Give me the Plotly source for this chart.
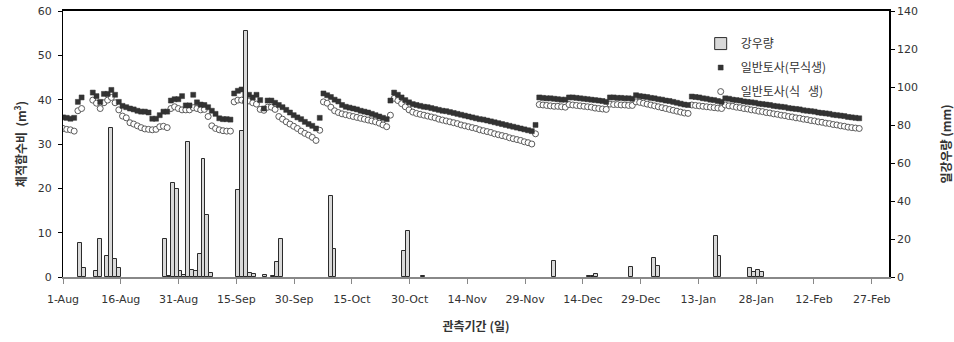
import pandas as pd
import plotly.graph_objects as go

# ---------------------------------------------------------------------------
# Daily rainfall (mm), secondary axis
# ---------------------------------------------------------------------------
rain_dates = [
    "2010-08-05", "2010-08-06", "2010-08-09", "2010-08-10", "2010-08-12",
    "2010-08-13", "2010-08-14", "2010-08-15", "2010-08-27", "2010-08-28",
    "2010-08-29", "2010-08-30", "2010-08-31", "2010-09-01", "2010-09-02",
    "2010-09-03", "2010-09-04", "2010-09-05", "2010-09-06", "2010-09-07",
    "2010-09-08", "2010-09-15", "2010-09-16", "2010-09-17", "2010-09-18",
    "2010-09-19", "2010-09-22", "2010-09-24", "2010-09-25", "2010-09-26",
    "2010-10-09", "2010-10-10", "2010-10-28", "2010-10-29", "2010-11-02",
    "2010-12-06", "2010-12-15", "2010-12-16", "2010-12-17", "2010-12-26",
    "2011-01-01", "2011-01-02", "2011-01-17", "2011-01-18", "2011-01-26",
    "2011-01-27", "2011-01-28", "2011-01-29",
]
rain_mm = [
    18.0, 4.9, 3.0, 20.0, 11.0,
    78.2, 9.5, 4.9, 20.0, 0.4,
    49.7, 46.3, 3.2, 0.9, 71.2,
    3.7, 3.2, 12.1, 62.1, 32.7,
    1.9, 46.0, 77.0, 129.3, 2.1,
    1.6, 1.0, 0.5, 7.9, 20.0,
    42.7, 14.9, 13.8, 24.4, 0.5,
    8.6, 0.4, 0.5, 1.8, 5.3,
    10.0, 5.8, 21.6, 11.0, 4.7,
    2.5, 3.9, 2.5,
]

# ---------------------------------------------------------------------------
# Volumetric water content, one value per day from 1 Aug (None = no record)
# ---------------------------------------------------------------------------
series_start = "2010-08-01"

bare_soil = [  # 일반토사(무식생)
    36.0, 35.9, 35.7, 35.9, 39.5, 40.5, None, None,
    41.6, 40.8, 39.5, 41.3, 41.3, 42.2, 41.1, 39.5, 38.6, 38.3,
    38.0, 37.8, 37.5, 37.3, 37.3, 37.1, 35.7, 35.7, 36.5, 37.3,
    37.3, 39.8, 40.1, 40.1, 40.8, 38.7, 38.7, 41.1, 39.4, 38.9,
    38.8, 38.3, 37.5, 36.8, 35.8, 35.6, 35.6, 35.5,
    41.4, 42.0, 42.3, 41.1, 41.1, 40.5, 41.1, 39.9, 38.0, 39.8,
    39.8, 39.3, 38.8, 38.3, 37.7, 37.1, 36.5, 36.0, 35.6, 35.0,
    34.5, 34.1, 33.5, 35.9,
    41.4, 41.0, 40.6, 40.0, 39.6, 38.8, 38.4, 38.2, 38.0, 37.8,
    37.5, 37.3, 37.1, 36.8, 36.5, 36.2, 35.9, 35.6, 39.8,
    41.6, 41.1, 40.5, 39.9, 39.4, 39.0, 38.8, 38.6, 38.4, 38.3,
    38.1, 37.9, 37.7, 37.5, 37.4, 37.2, 37.0, 36.8, 36.6, 36.4,
    36.2, 36.0, 35.8, 35.6, 35.5, 35.3, 35.1, 34.9, 34.7, 34.5,
    34.3, 34.1, 33.9, 33.7, 33.5, 33.3, 33.1, 32.9, 34.3,
    40.5, 40.4, 40.3, 40.3, 40.2, 40.1, 40.0, 40.0,
    40.5, 40.5, 40.4, 40.3, 40.2, 40.1, 40.0, 39.9, 39.8, 39.7, 39.5,
    40.5, 40.5, 40.4, 40.4, 40.3, 40.3, 40.2,
    41.0, 40.8, 40.7, 40.6, 40.4, 40.3, 40.1, 40.0, 39.8, 39.7,
    39.5, 39.3, 39.1, 38.9, 38.8,
    40.7, 40.6, 40.5, 40.3, 40.2, 40.0, 39.9, 39.7, 39.5,
    40.3, 40.2, 40.0, 39.9, 39.8, 39.6, 39.5, 39.4, 39.3, 39.1,
    39.0, 38.9, 38.8, 38.6, 38.5, 38.4, 38.3, 38.1, 38.0, 37.9,
    37.8, 37.6, 37.5, 37.4, 37.3, 37.1, 37.0, 36.9, 36.8, 36.6,
    36.5, 36.4, 36.3, 36.1, 36.0, 35.9, 35.8,
]

vegetated = [  # 일반토사(식 생)
    33.5, 33.3, 33.2, 32.9, 37.5, 38.0, None, None,
    39.9, 39.2, 38.0, 39.3, 39.9, 40.5, 39.3, 37.7, 36.3, 35.9,
    34.8, 34.5, 34.1, 33.7, 33.4, 33.3, 33.2, 33.3, 33.9, 34.0,
    33.7, 38.0, 38.4, 38.0, 37.7, 37.7, 37.7, 38.2, 38.0, 37.7,
    37.8, 36.2, 34.1, 33.5, 33.2, 33.0, 32.9, 32.9,
    39.5, 39.9, 39.9, 39.5, 39.7, 39.3, 39.0, 37.8, 37.6, 38.3,
    38.3, 37.8, 36.2, 35.6, 35.0, 34.5, 34.0, 33.5, 32.9, 32.4,
    32.0, 31.5, 30.8, 33.1,
    39.5, 39.2, 38.3, 37.5, 37.1, 36.8, 36.6, 36.4, 36.2, 36.0,
    35.8, 35.6, 35.4, 35.2, 35.0, 34.7, 34.3, 33.9, 36.5,
    40.3, 39.8, 39.1, 38.4, 37.7, 37.2, 36.9, 36.7, 36.5, 36.3,
    36.1, 35.9, 35.6, 35.4, 35.2, 35.0, 34.8, 34.6, 34.3, 34.1,
    33.9, 33.7, 33.5, 33.2, 33.0, 32.8, 32.6, 32.3, 32.1, 31.9,
    31.7, 31.4, 31.2, 31.0, 30.8, 30.5, 30.3, 30.0, 32.3,
    38.9, 38.8, 38.7, 38.6, 38.5, 38.5, 38.4, 38.3,
    38.9, 38.8, 38.7, 38.6, 38.5, 38.4, 38.3, 38.1, 38.0, 37.9, 37.8,
    39.0, 38.9, 38.9, 38.8, 38.8, 38.7, 38.7,
    39.5, 39.4, 39.2, 39.0, 38.8, 38.6, 38.4, 38.2, 38.0, 37.8,
    37.6, 37.4, 37.2, 37.0, 36.9,
    38.8, 38.7, 38.6, 38.5, 38.4, 38.3, 38.2, 38.1, 38.0,
    38.8, 38.6, 38.5, 38.3, 38.2, 38.0, 37.9, 37.7, 37.6, 37.4,
    37.3, 37.1, 37.0, 36.8, 36.7, 36.5, 36.4, 36.2, 36.1, 35.9,
    35.8, 35.6, 35.5, 35.3, 35.2, 35.0, 34.9, 34.7, 34.6, 34.4,
    34.3, 34.1, 34.0, 33.8, 33.7, 33.6, 33.5,
]

days = pd.date_range(series_start, periods=len(bare_soil), freq="D")

DAY_MS = 86400000
LATIN = "DejaVu Sans, Noto Sans CJK KR, sans-serif"
HANGUL = "Noto Sans CJK KR, DejaVu Sans, sans-serif"

fig = go.Figure()

# moisture markers live on the main subplot (x: hidden daily axis, y: left)
fig.add_trace(go.Scatter(
    x=days, y=vegetated, name="일반토사(식   생)", mode="markers",
    xaxis="x", yaxis="y",
    marker=dict(symbol="circle", size=6, color="white",
                line=dict(color="#5a5a5a", width=1)),
    legendgroup="veg", legendrank=3,
))
fig.add_trace(go.Scatter(
    x=days, y=bare_soil, name="일반토사(무식생)", mode="markers",
    xaxis="x", yaxis="y",
    marker=dict(symbol="square", size=5, color="#333333",
                line=dict(color="#333333", width=0.5)),
    legendgroup="bare", legendrank=2,
))
# rain bars on the overlaid subplot (x2: dated bottom axis, y2: right)
fig.add_trace(go.Bar(
    x=pd.to_datetime(rain_dates), y=rain_mm, name="강우량",
    xaxis="x2", yaxis="y2",
    offset=0, width=DAY_MS,
    marker=dict(color="#d9d9d9", line=dict(color="#2b2b2b", width=1)),
    legendgroup="rain", legendrank=1,
))

fig.update_layout(
    width=954, height=342,
    margin=dict(l=63, r=65, t=11, b=65, autoexpand=False),
    paper_bgcolor="white", plot_bgcolor="rgba(0,0,0,0)",
    font=dict(family=LATIN, size=11, color="#333333"),
    bargap=0,
    showlegend=True,
    legend=dict(
        x=0.772, y=0.932, xanchor="left", yanchor="top",
        bgcolor="rgba(0,0,0,0)", borderwidth=0,
        font=dict(family=HANGUL, size=12, color="#333333"),
        itemwidth=30, traceorder="grouped", tracegroupgap=5,
    ),
    xaxis=dict(
        type="date", side="top", automargin=False,
        range=["2010-08-01", "2011-03-11"],
        showline=True, linecolor="black", linewidth=2,
        showticklabels=False, ticks="", showgrid=False, zeroline=False,
    ),
    xaxis2=dict(
        type="date", overlaying="x", side="bottom", anchor="y2",
        automargin=False,
        range=["2010-08-01", "2011-03-03 12:00"],
        tick0="2010-08-01", dtick=15 * DAY_MS, tickformat="%-d-%b",
        ticks="outside", ticklen=5, tickcolor="#888888", tickwidth=1,
        showline=True, linecolor="#888888", linewidth=1.5,
        showgrid=False, zeroline=False,
        ticklabelstandoff=6,
        title=dict(text="관측기간 (일)", standoff=18,
                   font=dict(family=HANGUL, size=12, weight="bold")),
    ),
    yaxis=dict(
        range=[0, 60], dtick=10, automargin=False,
        ticks="outside", ticklen=4, tickcolor="black",
        showline=True, linecolor="black", linewidth=1,
        showgrid=False, zeroline=False,
        ticklabelstandoff=4,
        title=dict(text="체적함수비  (m<sup>3</sup>)", standoff=8,
                   font=dict(family=HANGUL, size=12, weight="bold")),
    ),
    yaxis2=dict(
        range=[0, 140], dtick=20, overlaying="y", side="right",
        anchor="x2", automargin=False,
        ticks="outside", ticklen=4, tickcolor="black",
        showline=True, linecolor="black", linewidth=1.5,
        showgrid=False, zeroline=False,
        title=dict(text="일강우량 (mm)", standoff=30,
                   font=dict(family=HANGUL, size=12, weight="bold")),
    ),
)

fig.write_html("out.html")
